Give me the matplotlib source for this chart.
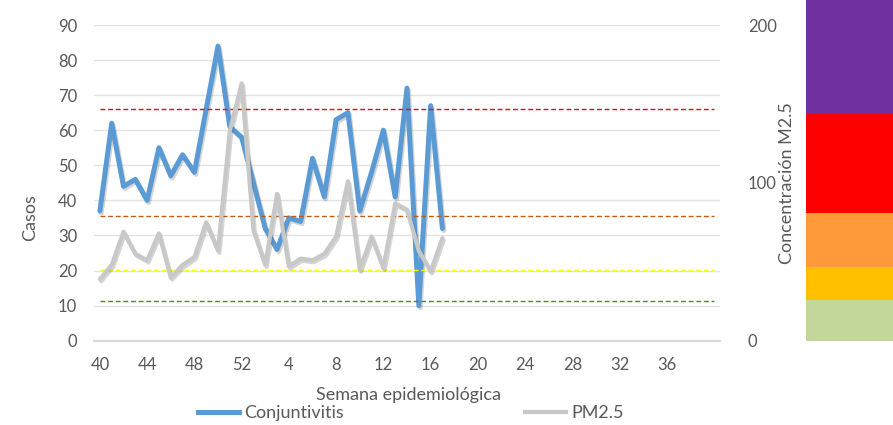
import matplotlib
matplotlib.use("Agg")
import matplotlib.pyplot as plt
import matplotlib.patheffects as pe
from matplotlib.lines import Line2D

# epidemiological weeks 40..52 of one year, then 1..40 of the next
weeks = list(range(40, 53)) + list(range(1, 41))

# weekly cases (left axis)
conjuntivitis = [37, 62, 44, 46, 40, 55, 47, 53, 48, 66, 84, 61, 58, 45, 32,
                 26, 35, 34, 52, 41, 63, 65, 37, 48, 60, 41, 72, 10, 67, 32]

# PM2.5 concentration (right axis)
pm25 = [39, 48, 69, 55, 51, 68, 40, 48, 53, 75, 57, 133, 163, 70, 48,
        93, 47, 52, 51, 55, 66, 101, 45, 66, 46, 87, 83, 57, 44, 65]

# threshold lines (right axis units) and their colours
thresholds = [147, 79, 45, 25]
threshold_colors = ['#FF0000', '#C55A11', '#FFFF00', '#548235']

# colour scale bands at the right edge (right axis units)
band_edges = [0, 26, 47, 81, 144, 216]
band_colors = ['#C4D79B', '#FFC000', '#FF9A3A', '#FF0000', '#7030A0']

TXT = '#595959'
FONT = 'Lato'
FS = 12      # tick labels
FS_T = 13    # axis titles and legend

plt.rcParams['font.family'] = [FONT, 'DejaVu Sans']

fig = plt.figure(figsize=(8.93, 4.25), dpi=100)
ax = fig.add_axes([94 / 893, 1 - 340.7 / 425, (720 - 94) / 893, (340.7 - 25) / 425])
ax2 = ax.twinx()

n = len(weeks)
x_data = list(range(len(conjuntivitis)))

# threshold lines, drawn in right axis units
for val, col in zip(thresholds, threshold_colors):
    ax2.plot([0, n - 1], [val, val], color=col, lw=1.0, ls=(0, (3.5, 2)), zorder=1)

shadow = [pe.SimpleLineShadow(offset=(1, -1.5), alpha=0.25, shadow_color='#555555'), pe.Normal()]
ax.plot(x_data, conjuntivitis, color='#5B9BD5', lw=3.6, solid_joinstyle='round',
        solid_capstyle='round', path_effects=shadow, zorder=3)
ax2.plot(x_data, pm25, color='#C8C8C8', lw=3.0, solid_joinstyle='round',
         solid_capstyle='round', path_effects=shadow, zorder=4)

ax.set_xlim(-0.5, n - 0.5)
ax.set_ylim(0, 90)
ax.set_yticks(range(0, 91, 10))
ax2.set_ylim(0, 200)
ax2.set_yticks([0, 100, 200])

tick_idx = list(range(0, n - 1, 4))
ax.set_xticks(tick_idx)
ax.set_xticklabels([str(weeks[i]) for i in tick_idx])

ax.grid(axis='y', color='#E3E3E3', lw=1.0)
ax.set_axisbelow(True)
for a in (ax, ax2):
    for s in a.spines.values():
        s.set_visible(False)
ax.spines['bottom'].set_visible(True)
ax.spines['bottom'].set_color('#D9D9D9')
ax.spines['bottom'].set_linewidth(1.5)

ax.tick_params(axis='both', length=0, labelsize=FS, labelcolor=TXT)
ax.tick_params(axis='x', pad=12)
ax.tick_params(axis='y', pad=12)
ax2.tick_params(axis='y', length=0, labelsize=FS, labelcolor=TXT, pad=20)

fig.text(30 / 893, 1 - 218 / 425, 'Casos', rotation=90, ha='center', va='center',
         fontsize=FS_T, color=TXT)
fig.text(787 / 893, 1 - 183 / 425, 'Concentración M2.5', rotation=90, ha='center',
         va='center', fontsize=FS_T, color=TXT)
fig.text(408 / 893, 1 - 395 / 425, 'Semana epidemiológica', ha='center', va='center',
         fontsize=FS_T, color=TXT)

# colour scale bar
cb = fig.add_axes([806 / 893, 1 - 340.7 / 425, 87 / 893, 340.7 / 425])
for lo, hi, col in zip(band_edges[:-1], band_edges[1:], band_colors):
    cb.axhspan(lo, hi, color=col, lw=0)
cb.set_ylim(0, band_edges[-1])
cb.set_xlim(0, 1)
cb.axis('off')

handles = [Line2D([], [], color='#5B9BD5', lw=3.6),
           Line2D([], [], color='#C8C8C8', lw=3.0)]
leg = fig.legend(handles, ['Conjuntivitis', 'PM2.5'], loc='center',
                 bbox_to_anchor=(411 / 893, 1 - 413 / 425), ncol=2, frameon=False,
                 fontsize=FS_T, handlelength=2.3, handletextpad=0.3, columnspacing=10.0,
                 borderpad=0)
for t in leg.get_texts():
    t.set_color(TXT)

fig.savefig('out.png', dpi=100)
